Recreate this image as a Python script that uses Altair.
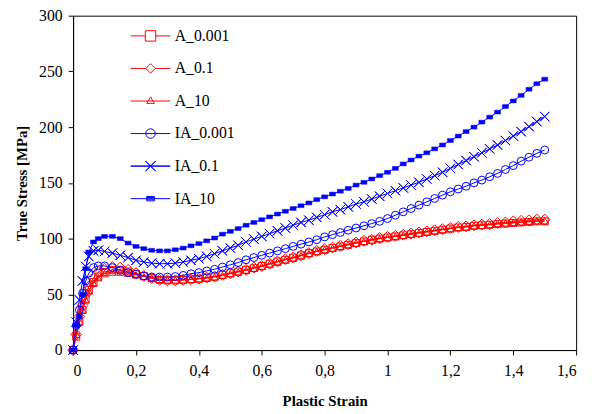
import altair as alt
import pandas as pd

STRAIN = [0, 0.01, 0.02, 0.03, 0.04, 0.05, 0.065, 0.08,
          0.1, 0.125, 0.15, 0.175, 0.2, 0.225, 0.25, 0.275,
          0.3, 0.325, 0.35, 0.375, 0.4, 0.425, 0.45, 0.475,
          0.5, 0.525, 0.55, 0.575, 0.6, 0.625, 0.65, 0.675,
          0.7, 0.725, 0.75, 0.775, 0.8, 0.825, 0.85, 0.875,
          0.9, 0.925, 0.95, 0.975, 1.0, 1.025, 1.05, 1.075,
          1.1, 1.125, 1.15, 1.175, 1.2, 1.225, 1.25, 1.275,
          1.3, 1.325, 1.35, 1.375, 1.4, 1.425, 1.45, 1.475, 1.5]

A_0001 = [0, 12, 25, 36, 46, 54, 61, 66,
          70, 72, 72, 70.5, 68.5, 66.5, 64.5, 63,
          62.5, 62.5, 63, 63.5, 64, 65, 66, 67.5,
          69, 70.5, 72, 73.5, 75.5, 77.5, 79.5, 81,
          83, 85, 87, 88.5, 90, 91.5, 93, 94.5,
          96, 97.5, 99, 100, 101, 102, 103, 104,
          105, 106, 107, 108, 109, 110, 110.5, 111.5,
          112, 112.5, 113, 113.5, 114, 114.5, 115, 115.5, 115.5]

A_01 = [0, 14, 30, 40, 50, 57, 65, 70,
        73, 74.5, 74, 72, 69, 66.5, 64.5, 63,
        62.5, 62.5, 63, 63.5, 64, 65, 66, 67.5,
        69, 70.5, 72, 74, 75.5, 77.5, 79.5, 81.5,
        83, 85, 87, 89, 90.5, 92, 93.5, 95,
        96.5, 98, 99, 100.5, 101.5, 102.5, 103.5, 104.5,
        105.5, 106.5, 107.5, 108.5, 109.5, 110.5, 111, 112,
        112.5, 113, 114, 114.5, 115.5, 116, 116.5, 117, 117]

A_10 = [0, 14, 26, 36, 45, 53, 60, 65,
        68.5, 70, 70, 69, 67.5, 66, 64.5, 63.5,
        63, 63, 63, 63.5, 64, 64.5, 65.5, 67,
        68.5, 70, 71.5, 73.5, 75, 77, 79, 81,
        82.5, 84.5, 86.5, 88.5, 90, 91.5, 93, 94.5,
        96, 97.5, 98.5, 100, 101, 102, 103, 104,
        105, 106, 107, 108, 109, 110, 110.5, 111.5,
        112, 112.5, 113.5, 114, 114.5, 115, 115.5, 116, 116]

IA_0001 = [0, 22, 36, 51, 62, 69, 74, 75.5,
           75.5, 74, 71.5, 69.5, 68, 66.5, 65.5, 65.5,
           65.5, 66, 67, 68.5, 69.5, 71, 72.5, 74.5,
           76.5, 78.5, 81, 83, 85, 87, 89, 91,
           93, 95, 97, 99, 101.5, 103.5, 105.5, 107.5,
           109.5, 111.5, 113.5, 115.5, 118, 121, 124, 127,
           130, 133, 136, 139, 142, 144.5, 147, 150,
           152.5, 155.5, 158.5, 162, 165.5, 169.5, 173, 176.5, 179.5]

IA_01 = [0, 25, 45, 62, 75, 84, 89, 89.5,
         88.5, 87, 85, 83, 80.5, 79, 78, 77.5,
         77.5, 78, 79, 80.5, 82, 84, 86.5, 89,
         91.5, 94, 97, 99.5, 102, 104.5, 107, 109.5,
         112, 114.5, 116.5, 119, 121.5, 124, 126, 128.5,
         131, 133, 135.5, 138, 140.5, 143, 145.5, 148,
         150.5, 153.5, 156.5, 159.5, 163, 166.5, 170, 173.5,
         177, 180.5, 184, 188, 192, 196, 200.5, 205, 209.5]

IA_10 = [0, 22, 30, 50, 73, 88, 97, 100,
         102, 102, 100, 96, 93, 91, 89.5, 89,
         89, 90, 91.5, 93.5, 95.5, 98, 100.5, 104,
         106.5, 109, 112, 114.5, 117, 119.5, 122, 124.5,
         127, 129.5, 132, 135, 137.5, 140, 142.5, 145,
         148, 150.5, 153.5, 156.5, 159.5, 163, 167, 170.5,
         174, 177, 180.5, 184, 188, 192, 196, 200,
         204.5, 209, 213.5, 218.5, 223.5, 228.5, 234, 239, 243]

NAMES = ["A_0.001", "A_0.1", "A_10", "IA_0.001", "IA_0.1", "IA_10"]
VALUES = [A_0001, A_01, A_10, IA_0001, IA_01, IA_10]
COLORS = ["#FF0000", "#FF0000", "#FF0000", "#0000FF", "#0000FF", "#0000FF"]
X_TICKS = [0, 0.2, 0.4, 0.6, 0.8, 1.0, 1.2, 1.4, 1.6]
Y_TICKS = [0, 50, 100, 150, 200, 250, 300]

X_PATH = "M-1,-1L1,1L-1,-1ZM1,-1L-1,1L1,-1Z"
RECT_PATH = "M-1,-0.65H1V0.65H-1Z"
# (shape, size, filled)
MARKERS = [("square", 49, False), ("diamond", 121, False), ("triangle-up", 56, False),
           ("circle", 64, False), (X_PATH, 90, False), (RECT_PATH, 36, True)]

LEGEND_PATHS = [
    "M-1.25,0H-0.33M0.33,0H1.25M-0.33,-0.33H0.33V0.33H-0.33Z",
    "M-1.25,0H-0.3M0.3,0H1.25M-0.3,0L0,-0.3L0.3,0L0,0.3Z",
    "M-1.25,0H1.25M-0.24,0.15L0,-0.26L0.24,0.15Z",
    "M-1.25,0H1.25M0.3,0A0.3,0.3,0,1,1,-0.3,0A0.3,0.3,0,1,1,0.3,0Z",
    "M-1.25,0H1.25L-1.25,0ZM-0.32,-0.32L0.32,0.32L-0.32,-0.32ZM0.32,-0.32L-0.32,0.32L0.32,-0.32Z",
    "M-1.25,0H1.25M-0.24,-0.14H0.24V0.14H-0.24ZM-0.24,-0.07H0.24M-0.24,0.07H0.24",
]

rows = []
for name, vals in zip(NAMES, VALUES):
    for s, v in zip(STRAIN, vals):
        rows.append({"series": name, "strain": s, "stress": v})
df = pd.DataFrame(rows)

FONT = "Liberation Serif"

x_enc = alt.X("strain:Q", scale=alt.Scale(domain=[0, 1.6], nice=False),
              axis=alt.Axis(values=X_TICKS, title="Plastic Strain",
                            labelExpr="replace(format(datum.value, '~g'), '.', ',')",
                            labelPadding=8, titlePadding=15))
y_enc = alt.Y("stress:Q", scale=alt.Scale(domain=[0, 300], nice=False),
              axis=alt.Axis(values=Y_TICKS, title="True Stress [MPa]",
                            labelPadding=6, titlePadding=9))

base = alt.Chart(df)
layers = []
for name, col in zip(NAMES, COLORS):
    layers.append(base.transform_filter(alt.datum.series == name)
                  .mark_line(color=col, strokeWidth=1)
                  .encode(x=x_enc, y=y_enc))
for name, col, (shape, size, filled) in zip(NAMES, COLORS, MARKERS):
    if filled:
        mk = base.mark_point(shape=shape, size=size, filled=True, fill=col,
                             stroke=col, opacity=1, strokeWidth=0.5)
    else:
        mk = base.mark_point(shape=shape, size=size, filled=False, stroke=col,
                             opacity=1, strokeWidth=1)
    layers.append(mk.transform_filter(alt.datum.series == name)
                  .encode(x=x_enc, y=y_enc))

leg = alt.Legend(orient="none", legendX=62, legendY=4, title=None,
                 labelFont=FONT, labelFontSize=16, labelColor="black",
                 symbolSize=1024, symbolStrokeWidth=1, rowPadding=8,
                 labelOffset=8, padding=0)
legend_layer = (base.transform_filter("false")
                .mark_point(filled=False, opacity=1, strokeWidth=1)
                .encode(x=x_enc, y=y_enc,
                        color=alt.Color("series:N", scale=alt.Scale(domain=NAMES, range=COLORS), legend=leg),
                        shape=alt.Shape("series:N", scale=alt.Scale(domain=NAMES, range=LEGEND_PATHS), legend=leg)))
layers.append(legend_layer)

chart = (alt.layer(*layers)
         .properties(width=510, height=339,
                     autosize=alt.AutoSizeParams(type="none"),
                     padding={"left": 66, "top": 5, "right": 11, "bottom": 60},
                     background="white")
         .configure_view(stroke="black", strokeWidth=1)
         .configure_axis(grid=False, domainColor="black", tickColor="black",
                         domainWidth=1, tickWidth=1, tickSize=5,
                         labelFont=FONT, labelFontSize=16, labelColor="black",
                         titleFont=FONT, titleFontSize=15, titleFontWeight="bold",
                         titleColor="black"))

chart.save("out.html", embed_options={"renderer": "svg", "actions": False})
